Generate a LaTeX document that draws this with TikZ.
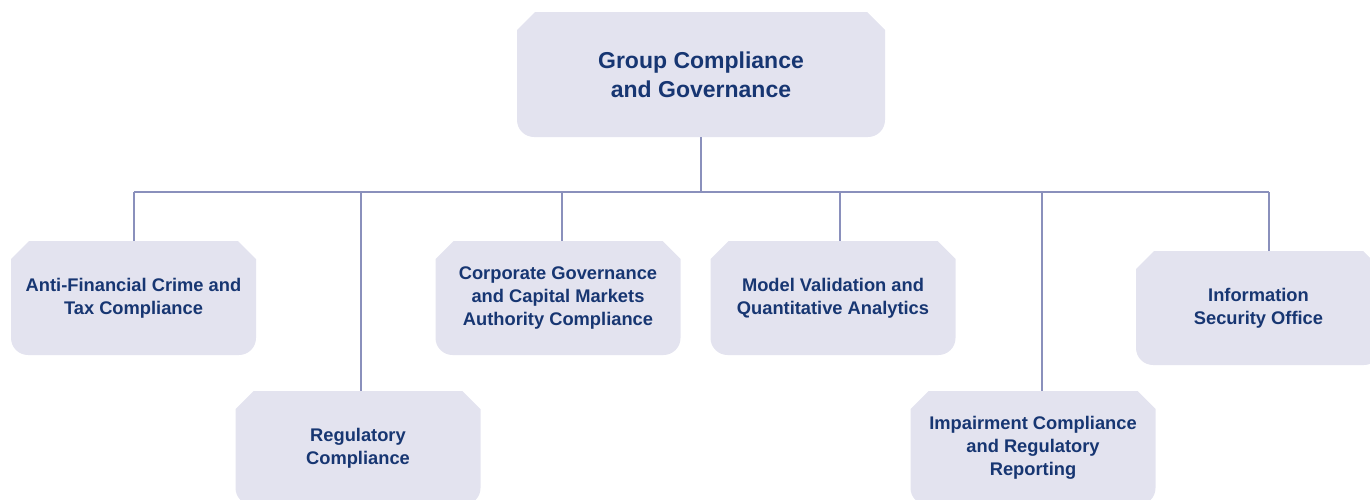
\documentclass[tikz,border=0pt]{standalone}
\usepackage{fontspec}
\setmainfont{Liberation Sans}
\usepackage{tikz}

\definecolor{unitfill}{HTML}{E3E3EF}
\definecolor{unittext}{HTML}{173672}
\definecolor{linkline}{HTML}{8A90BC}

\tikzset{
    unit/.style={minimum width=245pt, minimum height=114pt, inner sep=0pt,
        align=center, text=unittext, font=\bfseries\fontsize{18.3}{23}\selectfont,
        path picture={
            \fill[unitfill]
                ([yshift=-18pt]path picture bounding box.north west)
                -- ([xshift=18pt]path picture bounding box.north west)
                -- ([xshift=-18pt]path picture bounding box.north east)
                -- ([yshift=-18pt]path picture bounding box.north east)
                [rounded corners=17pt] -- (path picture bounding box.south east)
                -- (path picture bounding box.south west)
                [sharp corners] -- ([yshift=-18pt]path picture bounding box.north west)
                -- cycle;
        }},
    head/.style={unit, minimum width=368pt, minimum height=125pt,
        font=\bfseries\fontsize{23}{29}\selectfont},
    link/.style={draw=linkline, line width=2.8pt}
}

\begin{document}
\begin{tikzpicture}[x=1pt, y=1pt]
    \clip (0,0) rectangle (1370,-499);
    % Top unit
    \node[head] (Head) at (701,-74.5) {Group Compliance\\and Governance};
    % Child units
    \foreach \i/\x/\y/\name in {
        1/133.5/-298/{Anti-Financial Crime and\\Tax Compliance},
        2/358/-448/{Regulatory\\Compliance},
        3/558/-298/{Corporate Governance\\and Capital Markets\\Authority Compliance},
        4/833/-298/{Model Validation and\\Quantitative Analytics},
        5/1033/-448/{Impairment Compliance\\and Regulatory\\Reporting},
        6/1258.5/-308/{Information\\Security Office}} {
        \node[unit] (Unit-\i) at (\x,\y) {\name};
    }
    % Bus
    \coordinate (Bus) at (0,-192);
    \draw[link] (Head.south) -- (Head.south |- Bus);
    \draw[link] ([xshift=0.5pt]Unit-1.north |- Bus) -- ([xshift=10.5pt]Unit-6.north |- Bus);
    % Drops
    \foreach \i/\d in {1/0.5,2/3,3/4,4/7,5/9,6/10.5} {
        \draw[link] ([xshift=\d pt]Unit-\i.north |- Bus) -- ([xshift=\d pt]Unit-\i.north);
    }
\end{tikzpicture}
\end{document}
